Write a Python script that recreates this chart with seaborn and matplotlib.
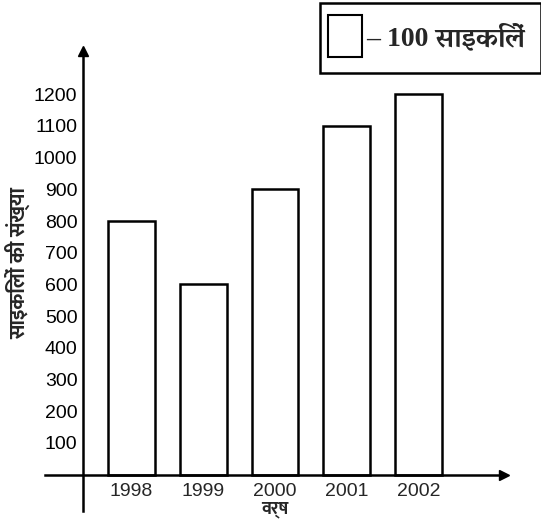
import matplotlib
matplotlib.use("Agg")
import matplotlib.pyplot as plt
import seaborn as sns
import pandas as pd
from matplotlib.patches import Rectangle

years = ["1998", "1999", "2000", "2001", "2002"]
cycles = [800, 600, 900, 1100, 1200]
yticks = [100, 200, 300, 400, 500, 600, 700, 800, 900, 1000, 1100, 1200]
xlabel = "वर्ष"
ylabel = "साइकिलों की संख्या"
legend_text = "– 100 साइकिलें"

sns.set_theme(style="white")
plt.rcParams['font.family'] = ['Mukta', 'DejaVu Sans']

W, H = 541, 523
fig = plt.figure(figsize=(W / 100, H / 100), dpi=100)
ax = fig.add_axes([45 / W, (H - 512) / H, (505 - 45) / W, (512 - 50) / H])

df = pd.DataFrame({"year": years, "cycles": cycles})
sns.barplot(data=df, x="year", y="cycles", ax=ax, color="white",
            edgecolor="black", linewidth=1.8, width=0.65, saturation=1)

ax.set_xlim(-1.2056, 5.2056)
ax.set_ylim(-117.7, 1339.7)

x_axis = -0.676
for s in ["top", "right"]:
    ax.spines[s].set_visible(False)
ax.spines["left"].set_position(("data", x_axis))
ax.spines["bottom"].set_position(("data", 0))
for s in ["left", "bottom"]:
    ax.spines[s].set_linewidth(1.8)
    ax.spines[s].set_color("black")
ax.spines["left"].set_bounds(-115, 1325)
ax.spines["bottom"].set_bounds(-1.2, 5.18)

# arrow heads
ax.plot([x_axis], [1335], marker="^", color="black", markersize=7, clip_on=False)
ax.plot([5.19], [0], marker=">", color="black", markersize=7, clip_on=False)

ax.set_yticks(yticks)
ax.set_yticklabels([str(v) for v in yticks], fontsize=14,
                   family=['Liberation Sans', 'DejaVu Sans'])
ax.tick_params(axis="y", direction="inout", length=6, width=1.2, pad=1, colors="black")
ax.tick_params(axis="x", length=0, pad=6, labelsize=14)
for lab in ax.get_xticklabels():
    lab.set_family(['Liberation Sans', 'DejaVu Sans'])

ax.set_xlabel("")
ax.set_ylabel("")
fig.text(275 / W, 1 - 510 / H, xlabel, ha="center", va="center", fontsize=13,
         family=['Mukta', 'DejaVu Sans'], fontweight="bold")
fig.text(18 / W, 1 - 263 / H, ylabel, rotation=90, ha="center", va="center",
         fontsize=15, family=['Mukta', 'DejaVu Sans'], fontweight="bold")

# legend box
fig.patches.append(Rectangle((320 / W, 1 - 73 / H), (W - 320) / W, 70 / H,
                             transform=fig.transFigure, fill=False,
                             edgecolor="black", linewidth=1.8))
fig.patches.append(Rectangle((328 / W, 1 - 57 / H), 34 / W, 42 / H,
                             transform=fig.transFigure, fill=False,
                             edgecolor="black", linewidth=1.5))
fig.text(366 / W, 1 - 37 / H, legend_text, ha="left", va="center",
         fontsize=20, fontweight="bold",
         family=['Liberation Serif', 'Vesper Libre', 'DejaVu Serif'])

fig.savefig("out.png", dpi=100)
